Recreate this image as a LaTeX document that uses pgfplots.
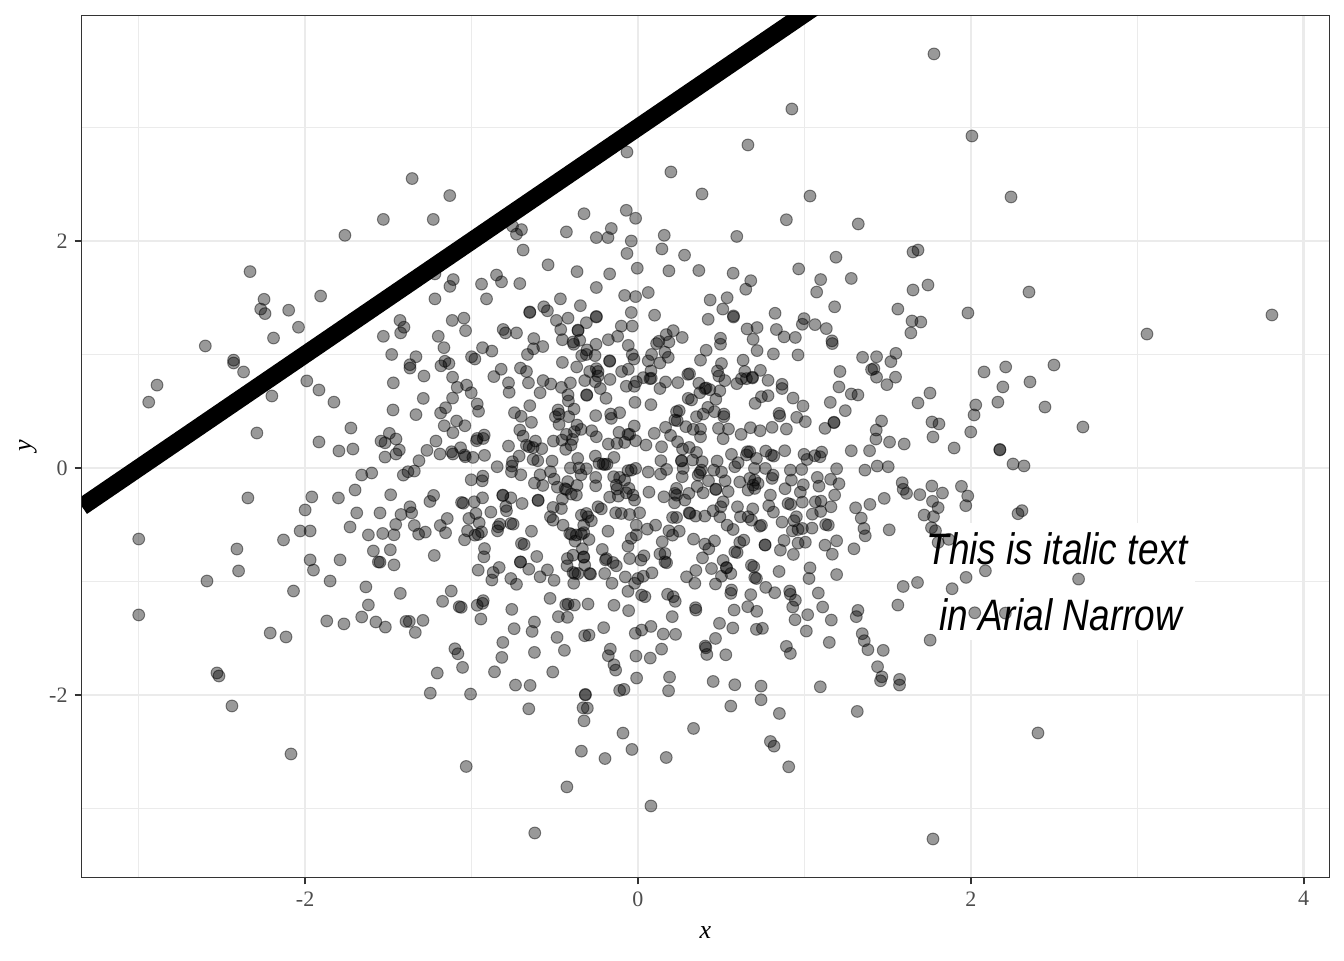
\documentclass[border=0pt]{standalone}
\usepackage{fontspec}
\usepackage{pgfplots}
\pgfplotsset{compat=1.18}
\setmainfont{Liberation Serif}
\newfontfamily\narrow[FakeStretch=0.84]{Liberation Sans}
\definecolor{gridcol}{gray}{0.92}
\definecolor{framecol}{gray}{0.2}
\definecolor{ticklab}{gray}{0.3}
\begin{document}
\begin{tikzpicture}
\useasboundingbox (-41pt,-41.5pt) rectangle (631pt,438.5pt);
\begin{axis}[
  scale only axis, width=623.5pt, height=431pt,
  xmin=-3.341, xmax=4.153, ymin=-3.604, ymax=3.991,
  axis line style={framecol, line width=0.5pt},
  xtick={-2,0,2,4}, xticklabels={-2,0,2,4},
  ytick={-2,0,2}, yticklabels={-2,0,2},
  minor xtick={-3,-1,1,3}, minor ytick={-3,-1,1,3},
  grid=both,
  major grid style={gridcol, line width=1.15pt},
  minor grid style={gridcol, line width=0.6pt},
  tick align=outside, xtick pos=bottom, ytick pos=left,
  major tick length=3.7pt, minor tick length=0pt,
  major tick style={framecol, line width=1pt},
  tick label style={ticklab, font=\fontsize{11}{13}\selectfont},
  xlabel={\textit{x}}, ylabel={\textit{y}},
  label style={black, font=\fontsize{13}{15}\selectfont},
  xlabel style={at={(axis description cs:0.5,0)}, anchor=center, yshift=-28pt},
  ylabel style={at={(axis description cs:0,0.5)}, anchor=center, yshift=27pt},
  clip=true,
]
% label background hides the grid but sits below the points
\fill[white] (axis cs:1.68,-0.485) rectangle (axis cs:3.35,-1.515);

\addplot[only marks, mark=*, mark size=2.95pt,
  mark options={draw=black, fill=black, fill opacity=0.4, draw opacity=0.45, line width=0.5pt}]
coordinates {
(-1.53,2.19)(-1.23,2.19)(-.324,2.24)(-.07,2.27)(-.014,2.20)(-.16,2.11)(-.43,2.08)(-.25,2.03)(-.18,2.03)(-.04,2.00)
(-.066,1.89)(-.70,2.10)(-.754,2.13)(-.73,2.06)(-.69,1.92)(-.54,1.79)(-.366,1.73)(-.17,1.71)(-.004,1.76)(-.25,1.59)
(-.08,1.52)(-.014,1.51)(-1.22,1.71)(-1.11,1.66)(-1.13,1.60)(-1.22,1.49)(-.94,1.62)(-.85,1.70)(-.82,1.64)(-.71,1.625)
(-.91,1.49)(-.466,1.49)(-.346,1.43)(-.65,1.37)(-.65,1.375)(-.566,1.42)(-.544,1.385)(-.25,1.33)(-.25,1.335)(-.04,1.37)
(-.49,1.30)(-.42,1.32)(-.31,1.28)(-.10,1.25)(-.034,1.25)(-.464,1.22)(-.36,1.21)(-.36,1.215)(-.81,1.22)(-.796,1.19)
(-.73,1.19)(-1.43,1.30)(-1.406,1.24)(-1.426,1.19)(-1.53,1.16)(-1.116,1.30)(-1.046,1.32)(-1.036,1.21)(-1.20,1.16)(-1.166,1.06)
(-1.48,1.00)(-1.334,.98)(-1.37,.91)(-1.37,.88)(-1.286,.81)(-1.16,.94)(-1.136,.92)(-1.184,.90)(-1.0,.98)(-.98,.96)
(-.934,1.06)(-.878,1.03)(-1.47,.75)(-1.114,.80)(-1.086,.71)(-1.03,.73)(-.866,.805)(-.822,.87)(-.778,.75)
(-.706,.88)(-.67,.85)(-.658,.75)(-.664,1.0)(-.628,1.05)(-.626,1.14)(-.572,1.07)(-.454,1.13)(-.39,1.11)(-.386,1.09)
(-.35,1.125)(-.252,1.09)(-.178,1.13)(-.122,1.16)(-.058,1.08)(-.034,1.0)(-.024,.96)(-.338,.99)(-.306,1.04)(-.31,1.0)
(-.258,.99)(-.454,.93)(-.368,.89)(-.17,.94)(-.17,.945)(-.29,.85)(-.25,.875)(-.24,.85)(-.24,.81)(-.098,.85)
(-.058,.87)(-.168,.78)(-.32,.77)(-.256,.76)(-.57,.77)(-.524,.74)(-.406,.75)(-.46,.71)(-.07,.72)(-.01,.76)
(-.226,.70)(-.022,.72)
(.892,2.187)(1.324,2.15)(1.034,2.396)(.158,2.05)(.594,2.04)(.144,1.93)(.28,1.875)(1.19,1.857)(.186,1.737)(.366,1.74)
(.572,1.716)(.966,1.754)(1.098,1.66)(1.282,1.67)(.678,1.65)(.648,1.575)(1.074,1.55)(.062,1.546)(.536,1.50)(.434,1.48)
(1.182,1.42)(.51,1.40)(.10,1.346)(.824,1.363)(.574,1.34)(.574,1.33)(.422,1.31)(1.562,1.40)(.998,1.316)(.988,1.266)
(1.064,1.263)(1.132,1.228)(.656,1.225)(.716,1.237)(.832,1.22)(.212,1.21)(.17,1.175)(.266,1.15)(.496,1.143)(.496,1.09)
(.692,1.134)(.878,1.155)(.946,1.15)(1.166,1.12)(1.168,1.096)(.186,1.11)(.126,1.116)(.112,1.096)(.41,1.037)(.716,1.034)
(.814,1.005)(.962,.996)(1.35,.975)(1.434,.98)(1.55,1.01)(1.52,.937)(.082,1.0)(.162,1.02)(.062,.943)(.132,.925)
(.182,.975)(.376,.95)(.632,.95)(.502,.92)(.478,.855)(.486,.81)(.522,.77)(.642,.85)(.736,.86)(.622,.787)
(.652,.787)(.688,.793)(.688,.80)(.594,.743)(.782,.772)(1.214,.85)(1.404,.867)(1.418,.875)(1.434,.80)(1.548,.80)
(1.496,.734)(1.208,.714)(.866,.737)(.866,.70)(.30,.825)(.31,.83)(.078,.855)(.072,.787)(.08,.79)
(.032,.796)(.166,.758)(.24,.752)(.366,.746)(.402,.70)(.41,.705)(.432,.69)(.492,.68)(.132,.70)
(-1.29,.613)(-1.114,.616)(-1.002,.663)(-.774,.667)(-.588,.663)(-.966,.564)(-.958,.499)(-1.156,.531)(-1.186,.484)(-1.334,.47)
(-.65,.549)(-.742,.487)(-.702,.455)(-.64,.402)(-1.09,.414)(-1.164,.372)(-1.04,.372)(-1.112,.311)(-.48,.511)(-.474,.475)
(-.496,.452)(-.42,.643)(-.418,.59)(-.384,.519)(-.416,.452)(-.474,.384)(-.308,.64)(-.308,.645)(-.192,.614)(-.254,.461)
(-.164,.475)(-.16,.437)(-.11,.487)(-.018,.578)(-.366,.378)(-.022,.37)(-.342,.34)(-.382,.32)(-.43,.296)(-.278,.328)
(-.25,.275)(-.114,.314)(-.06,.296)(-.05,.296)(-.394,.252)(-.456,.246)(-.508,.237)(-.08,.225)(-.126,.217)(-.178,.211)
(-.014,.24)(-.402,.202)(-.434,.164)(-.71,.334)(-.69,.281)(-.616,.237)(-.654,.187)(-.67,.20)(-.63,.18)(-.578,.17)
(-.778,.193)(-.714,.105)(-.63,.075)(-.602,.064)(-.516,.061)(-.754,.055)(-.758,.017)(-.76,-.033)(-.704,-.06)(-.846,.011)
(-.362,.084)(-.256,.105)(-.144,.093)(-.234,.04)(-.21,.034)(-.20,.03)(-.186,.034)(-.406,0)(-.354,0)(-.31,-.007)
(-.342,-.06)(-.526,-.033)(-.588,-.06)(-.504,-.098)(-.622,-.133)(-.572,-.154)(-.484,-.169)(-.422,-.12)(-.366,-.154)(-.438,-.183)
(-.43,-.19)(-.254,-.083)(-.254,-.157)(-.146,-.077)(-.11,-.083)(-.06,-.024)(-.04,-.019)(-.014,-.004)(-.08,-.107)(-.13,-.151)
(-.126,-.186)(-.054,-.18)(-.07,-.219)(-.03,-.239)(-.02,-.283)(-.17,-.257)(-.118,-.248)(-.37,-.239)(-.4,-.23)(-.454,-.274)
(-.46,-.357)(-.51,-.348)(-.60,-.283)(-.60,-.287)(-.696,-.313)(-.764,-.263)(-.812,-.239)(-.812,-.243)(-.794,-.339)(-.79,-.377)
(-.884,-.389)(-.934,-.263)(-.984,-.298)(-1.06,-.304)(-1.05,-.31)(-.932,-.072)(-.936,-.113)(-1.002,-.104)(-.922,.111)(-.992,.093)
(-1.042,.114)(-1.038,.099)(-1.066,.178)(-1.112,.123)(-1.12,.143)(-1.19,.123)(-1.268,.155)(-1.214,.237)(-1.316,.064)(-1.344,-.027)
(-1.382,-.033)(-1.41,-.063)(-1.52,.096)(-1.434,.158)(-1.454,.123)(-1.454,.255)(-1.494,.305)(-1.52,.222)(-1.544,.237)(-.97,.24)
(-.966,.26)(-.924,.29)(-.93,.26)(-1.486,-.236)(-1.228,-.242)(-1.25,-.295)(-1.37,-.342)(-1.424,-.41)(-1.36,-.395)(-1.456,-.498)
(-1.344,-.507)(-1.534,-.577)(-1.466,-.589)(-1.318,-.583)(-1.278,-.565)(-1.146,-.445)(-1.188,-.507)(-1.156,-.571)(-1.016,-.445)(-.974,-.401)
(-.954,-.483)(-1.024,-.554)(-1.042,-.633)(-.98,-.592)(-.96,-.586)(-.94,-.563)(-.844,-.554)(-.84,-.518)(-.83,-.495)(-.764,-.489)
(-.75,-.495)(-.64,-.557)(-.70,-.665)(-.684,-.674)(-.922,-.71)(-.926,-.783)(-1.488,-.721)(-1.224,-.771)(-1.466,-.854)(-1.55,-.83)
(-.608,-.78)(-.706,-.827)(-.706,-.83)(-.834,-.877)(-.96,-.90)(-.87,-.921)(-.764,-.974)(-.656,-.892)(-.544,-.898)(-.588,-.959)
(-.504,-.99)(-.526,-.43)(-.51,-.46)(-.45,-.504)(-.41,-.577)(-.40,-.585)(-.34,-.416)(-.31,-.401)(-.30,-.43)(-.28,-.465)
(-.326,-.504)(-.37,-.59)(-.34,-.583)(-.326,-.57)(-.294,-.63)(-.378,-.645)(-.334,-.712)(-.24,-.342)(-.22,-.36)(-.134,-.395)
(-.10,-.401)(-.05,-.41)(.01,-.395)(-.01,-.504)(-.18,-.557)(-.04,-.62)(-.06,-.689)(-.01,-.59)(-.214,-.718)(-.05,-.798)
(-.19,-.798)(-.195,-.81)(-.15,-.833)(-.13,-.862)(-.39,-.768)(-.424,-.798)(-.426,-.862)(-.326,-.783)(-.326,-.787)(-.32,-.856)
(-.39,-.921)(-.38,-.93)(-.29,-.93)(-.285,-.935)(-.20,-.93)(-.076,-.96)(0,-.974)(-.36,-.93)
(.078,.558)(.302,.613)(.322,.6)(.372,.663)(.468,.605)(.42,.534)(.392,.475)(.352,.452)(.46,.496)(.516,.475)
(.516,.452)(.232,.496)(.248,.505)(.222,.422)(.236,.417)(.704,.569)(.742,.628)(.782,.637)(.932,.616)(.992,.546)
(1.156,.578)(1.246,.505)(1.282,.652)(.848,.481)(.852,.458)(.954,.446)(1.006,.408)(1.178,.399)(1.178,.403)(1.124,.349)
(1.464,.414)(1.432,.334)(1.512,.228)(1.392,.152)(1.282,.152)(.892,.343)(.806,.358)(.734,.328)(.676,.355)(.62,.296)
(.544,.343)(.484,.349)(.512,.258)(.376,.343)(.376,.275)(.332,.34)(.288,.364)(.166,.358)(.098,.305)(.196,.287)
(.048,.202)(.238,.231)(.142,.187)(.268,.167)(.308,.181)(.352,.137)(.882,.152)(.768,.149)(.658,.143)
(.672,.143)(.652,.115)(.802,.114)(.816,.105)(.712,.084)(.562,.12)(.476,.061)(.602,.046)(.582,.011)(.998,.12)
(1.016,.075)(1.062,.108)(1.094,.099)(1.104,.14)(.138,.064)(.262,.061)(.262,.065)(.328,.07)(.386,.055)(.272,-.004)
(.172,-.013)(.062,-.036)(.136,-.054)(.382,-.019)(.362,-.063)(.372,-.04)(.266,-.077)(.456,-.019)(.502,-.036)(.524,-.113)
(.424,-.113)(.468,-.186)(.468,-.19)(.356,-.163)(.612,-.124)(.70,-.004)(.766,-.004)(.812,-.063)(.806,-.092)(.916,-.019)
(.984,-.013)(1.194,-.007)(1.364,-.019)(1.438,.017)(1.504,.011)(.922,-.107)(1.078,-.083)(1.158,-.1)(1.208,-.139)(1.088,-.16)
(.994,-.148)(.884,-.183)(.976,-.213)(.672,-.092)(.702,-.107)(.692,-.151)(.722,-.136)(.702,-.18)(.662,-.195)(.542,-.207)
(.392,-.219)(.306,-.224)(.232,-.18)(.222,-.224)(.232,-.24)(.156,-.254)(.066,-.213)(.282,-.283)(.22,-.307)(.796,-.239)
(1.182,-.239)(.988,-.301)(.902,-.313)(.918,-.321)(.786,-.333)(1.066,-.298)(1.10,-.292)(1.16,-.342)(1.48,-.268)(1.394,-.321)
(1.308,-.351)(.512,-.298)(.498,-.342)(.598,-.342)(.69,-.36)(.814,-.389)(1.098,-.383)(1.048,-.407)(.452,-.377)(.308,-.395)
(.312,-.40)(.346,-.424)(.402,-.424)(.492,-.43)(.616,-.43)(.662,-.43)(.682,-.46)(.208,-.436)(.232,-.436)
(.866,-.477)(.952,-.43)(.938,-.465)(1.128,-.498)(1.144,-.504)(1.342,-.442)(1.358,-.533)(1.366,-.598)(1.51,-.545)(1.046,-.53)
(.988,-.533)(.962,-.542)(.928,-.554)(.732,-.513)(.742,-.505)(.536,-.504)(.572,-.542)(.106,-.504)(.056,-.539)
(.186,-.554)(.208,-.592)(.248,-.557)(.334,-.627)(.146,-.65)(.46,-.642)(.402,-.671)(.426,-.712)(.388,-.792)(.612,-.656)
(.636,-.636)(.582,-.739)(.596,-.745)(.764,-.677)(.764,-.68)(.878,-.639)(.856,-.724)(.962,-.662)(1.006,-.654)(.934,-.762)
(1.124,-.68)(1.194,-.642)(1.168,-.76)(1.298,-.712)(.162,-.754)(.132,-.757)(.162,-.827)(.172,-.835)(.036,-.774)(.018,-.812)
(.512,-.815)(.532,-.877)(.532,-.88)(.442,-.886)(.348,-.903)(.292,-.959)(.682,-.857)(.696,-.871)(.848,-.912)(1.034,-.88)
(1.194,-.939)(1.028,-.974)(.558,-.93)(.502,-.954)(.712,-.974)(.702,-.965)(.084,-.924)(.032,-.954)
(-.878,-.987)(-.73,-1.025)(-.386,-1.016)(-1.428,-1.105)(-1.122,-1.084)(-1.174,-1.175)(-1.074,-1.222)
(-1.062,-1.228)(-.966,-1.21)(-.93,-1.169)(-.934,-1.193)(-.758,-1.246)(-.528,-1.149)(-.434,-1.205)(-.42,-1.199)(-.382,-1.208)(-.30,-1.199)
(-.144,-1.21)(-.156,-1.016)(-.06,-1.087)(-.056,-1.257)(-.02,-1.016)(-.478,-1.31)(-.424,-1.316)(-.944,-1.331)
(-1.292,-1.343)(-1.394,-1.352)(-1.374,-1.352)(-1.518,-1.402)(-1.338,-1.449)(-.622,-1.357)(-.744,-1.416)(-.636,-1.44)(-.206,-1.407)
(-.32,-1.478)(-.294,-1.472)(-.486,-1.493)(-.016,-1.457)(-.812,-1.537)(-1.10,-1.593)(-1.082,-1.637)(-.622,-1.625)(-.442,-1.607)(-.166,-1.596)
(-.178,-1.654)(-.818,-1.669)(-.012,-1.657)(-.144,-1.734)(-.134,-1.781)(-1.054,-1.757)(-1.206,-1.807)(-.862,-1.796)(-.512,-1.798)(-.008,-1.851)
(-.736,-1.913)(-.648,-1.916)(-.11,-1.96)(-.084,-1.951)(-1.248,-1.984)(-1.006,-1.992)(-.316,-2.0)(-.316,-1.995)(-.656,-2.122)(-.33,-2.113)
(-.304,-2.116)(-.324,-2.228)(-.09,-2.336)(-.34,-2.495)(-.036,-2.48)(-.198,-2.56)(-1.032,-2.63)
(.342,-1.016)(.466,-1.022)(.562,-1.075)(.558,-1.105)(.768,-1.052)(.822,-1.099)(.912,-1.084)(.916,-1.113)
(.946,-1.166)(.93,-1.225)(1.084,-1.102)(1.11,-1.225)(.678,-1.116)(.66,-1.222)(.714,-1.263)(.578,-1.252)(.178,-1.113)(.212,-1.134)
(.224,-1.175)(.042,-1.134)(.022,-1.12)(.346,-1.231)(.348,-1.252)(.206,-1.31)(.49,-1.369)(.57,-1.41)(.944,-1.337)(1.02,-1.293)
(1.162,-1.34)(1.322,-1.255)(1.312,-1.31)(1.348,-1.46)(1.36,-1.522)(1.382,-1.601)(1.474,-1.607)(1.562,-1.208)(.712,-1.422)(.748,-1.413)
(1.012,-1.437)(.078,-1.396)(.022,-1.428)(.152,-1.463)(.226,-1.466)(.466,-1.502)(1.15,-1.537)(.404,-1.569)(.408,-1.584)(.414,-1.643)
(.142,-1.596)(.892,-1.572)(.916,-1.634)(.528,-1.646)(.074,-1.675)(1.44,-1.751)(1.466,-1.84)(1.458,-1.875)(1.572,-1.863)
(1.572,-1.913)(.19,-1.843)(.452,-1.881)(.582,-1.91)(.74,-1.922)(1.096,-1.928)(.184,-1.963)(.74,-2.042)(.558,-2.098)(.85,-2.163)
(1.318,-2.145)(.334,-2.295)(.796,-2.41)(.818,-2.451)(.17,-2.551)(.906,-2.633)
(-1.357,2.55)(-1.131,2.40)(-1.761,2.05)(-2.331,1.73)(-2.247,1.486)(-2.099,1.39)(-1.907,1.515)(-2.267,1.40)(-2.241,1.36)(-2.60,1.075)
(-2.43,.95)(-2.43,.925)(-2.37,.846)(-2.19,1.145)(-2.04,1.24)(-2.89,.73)(-2.94,.58)(-2.20,.634)(-2.29,.308)(-2.344,-.264)
(-1.99,.767)(-1.917,.687)(-1.827,.58)(-1.917,.229)(-1.725,.352)(-1.797,.15)(-1.713,.167)
(-1.472,.511)(-1.70,-.194)(-1.80,-.264)(-1.96,-.255)(-2.0,-.37)(-2.03,-.555)(-1.97,-.555)(-2.13,-.634)(-1.97,-.81)(-1.95,-.90)
(-2.41,-.714)(-2.40,-.907)(-2.59,-.996)(-1.85,-.996)(-1.79,-.81)(-2.07,-1.084)(-3.0,-.626)(-3.0,-1.295)(-1.73,-.52)(-1.69,-.396)
(-1.66,-.062)(-1.60,-.044)(-1.55,-.396)(-1.62,-.59)(-1.59,-.731)(-1.56,-.828)
(-1.635,-1.048)(-1.62,-1.207)(-1.66,-1.313)(-1.575,-1.357)(-1.87,-1.348)(-1.767,-1.374)(-2.21,-1.454)
(-2.115,-1.489)(-2.53,-1.806)(-2.518,-1.833)(-2.44,-2.097)(-2.085,-2.52)(-.427,-2.81)(-.62,-3.216)(.078,-2.978)(1.773,-3.269)
(2.404,-2.335)(-.066,2.784)(.198,2.608)(.385,2.414)(.661,2.846)(.925,3.163)(1.779,3.648)(2.007,2.925)(2.242,2.388)
(1.653,1.903)(1.683,1.92)(1.647,1.295)(1.64,1.19)(1.70,1.286)(1.653,1.568)(1.743,1.612)(1.983,1.366)(2.35,1.55)
(3.059,1.18)(3.81,1.348)(2.5,.907)(2.21,.89)(2.08,.846)(2.356,.758)(2.193,.714)(2.163,.58)(2.03,.555)(2.02,.467)
(2.446,.537)(2.0,.317)(2.674,.361)(2.175,.159)(2.175,.163)(2.254,.035)(2.32,.018)(1.90,.176)(1.755,.66)(1.683,.573)
(1.767,.405)(1.809,.388)(1.773,.273)(1.6,.211)(1.43,.255)(1.322,.643)
(1.588,-.13)(1.594,-.188)(1.614,-.224)(1.694,-.235)(1.766,-.159)(1.83,-.221)(1.944,-.162)(1.982,-.247)(1.97,-.332)
(1.77,-.294)(1.804,-.35)(1.72,-.415)(1.776,-.429)(2.308,-.376)(2.284,-.403)(1.764,-.526)(1.788,-.553)(1.804,-.656)
(1.868,-.629)(2.088,-.906)(1.972,-.964)(1.888,-1.064)(2.648,-.979)(1.68,-1.009)(1.594,-1.044)(2.024,-1.276)(2.208,-1.279)
(1.756,-1.517)
};

\addplot[black, line width=8.8pt] coordinates {(-3.341,-0.341) (4.153,7.153)};

\node[align=center, font={\fontsize{22}{33}\selectfont\narrow\itshape}] at (axis cs:2.518,-1.0)
  {This is italic text\\\hspace*{4pt}in Arial Narrow};
\end{axis}
\end{tikzpicture}
\end{document}
